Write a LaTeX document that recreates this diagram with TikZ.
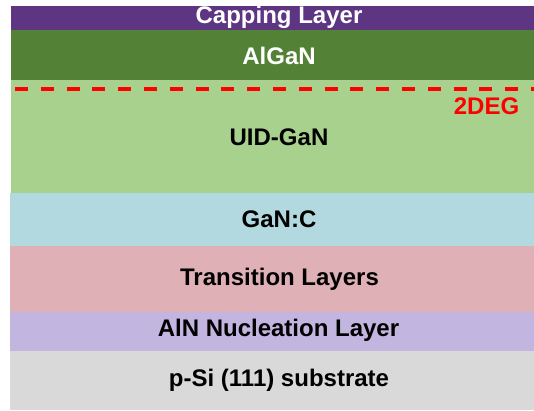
\documentclass[tikz,border=0pt]{standalone}
\usepackage{fontspec}
\setmainfont{Liberation Sans}
\definecolor{capC}{RGB}{94,53,130}
\definecolor{algC}{RGB}{83,129,53}
\definecolor{uidC}{RGB}{169,209,142}
\definecolor{gancC}{RGB}{177,217,223}
\definecolor{transC}{RGB}{224,176,183}
\definecolor{alnC}{RGB}{194,181,224}
\definecolor{subC}{RGB}{217,217,217}
\begin{document}
\begin{tikzpicture}[x=1pt,y=-1pt,
  lbl/.style={font=\fontsize{24}{26}\selectfont\bfseries, inner sep=0pt, text=black},
  wlbl/.style={lbl, text=white}]
\useasboundingbox (0,0) rectangle (534,410);
\fill[capC] (11,6) rectangle (534,30);
\fill[algC] (11,30) rectangle (534,80);
\fill[uidC] (11,80) rectangle (534,193);
\fill[gancC] (10,193) rectangle (534,246);
\fill[transC] (10,246) rectangle (534,312);
\fill[alnC] (10,312) rectangle (534,351);
\fill[subC] (10,351) rectangle (534,410);
\draw[red, line width=4pt, dash pattern=on 13pt off 12.8pt] (15,88.5) -- (534,88.5);
\node[wlbl] (cap) at (279,17) {Capping Layer};
\node[wlbl] (alg) at (279,55.5) {AlGaN};
\node[lbl] (uid) at (279,137) {UID-GaN};
\node[lbl] (ganc) at (279,219.5) {GaN:C};
\node[lbl] (trans) at (279.5,279) {Transition Layers};
\node[lbl] (aln) at (278.5,330.5) {AlN Nucleation Layer};
\node[lbl] (sub) at (279,380.5) {p-Si (111) substrate};
\node[lbl, text=red] (deg) at (486.5,106.5) {2DEG};
\end{tikzpicture}
\end{document}
